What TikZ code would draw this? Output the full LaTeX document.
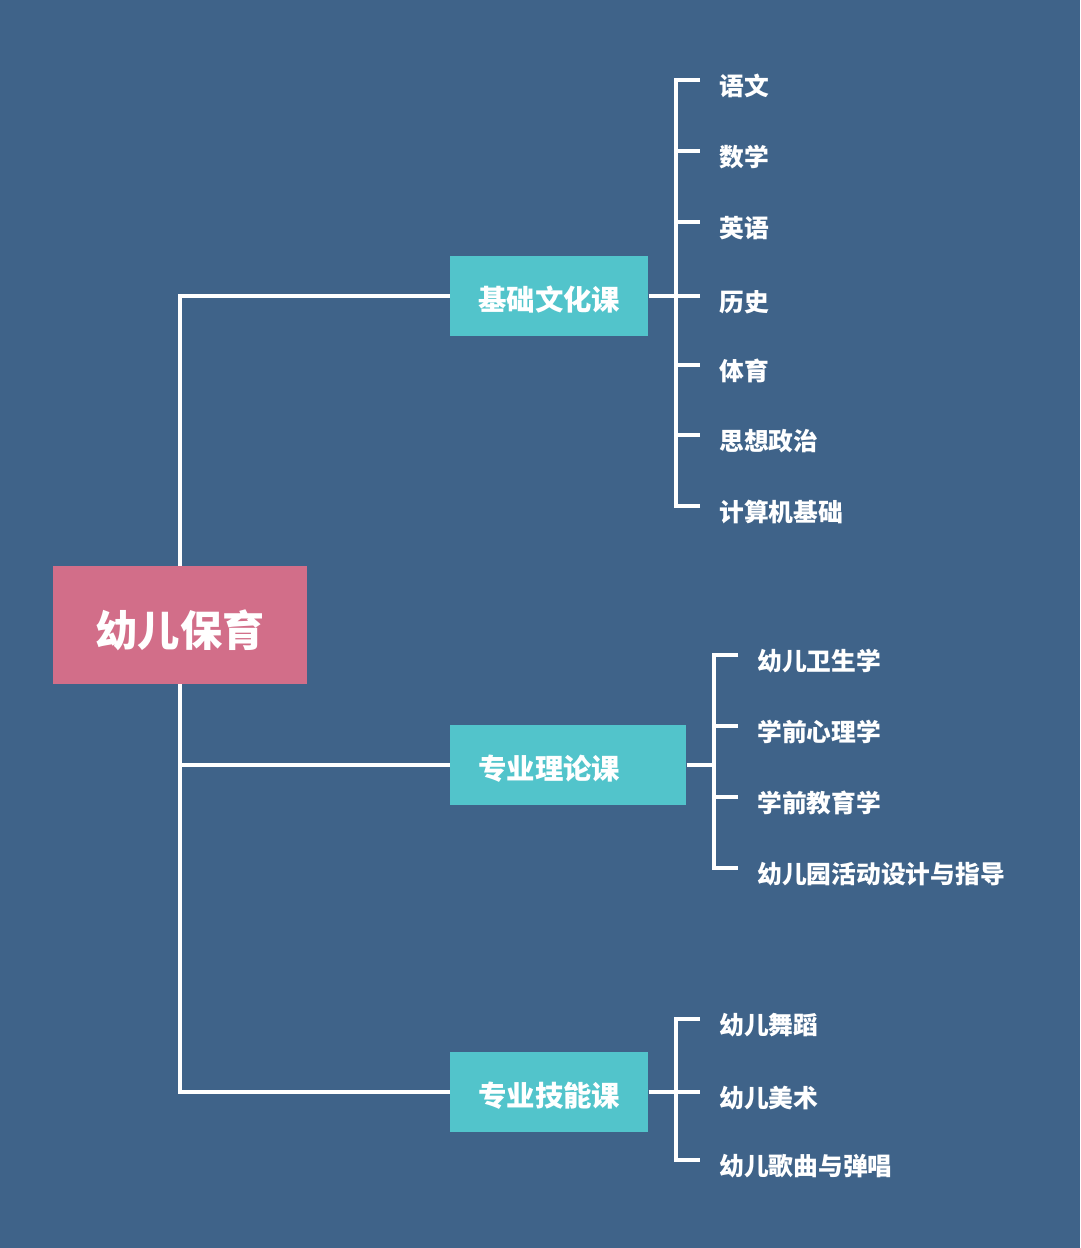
\documentclass[tikz,border=0pt]{standalone}
\usepackage{fontspec}
\newfontfamily\cjk{Noto Sans CJK SC}
\definecolor{bgblue}{RGB}{63,99,137}
\definecolor{rootpink}{RGB}{210,110,137}
\definecolor{boxteal}{RGB}{82,196,203}
\tikzset{
  link/.style={draw=white, line width=2.7pt},
  rootbox/.style={fill=rootpink, text=white, font=\cjk\bfseries\fontsize{30pt}{30pt}\selectfont, minimum width=180.7pt, minimum height=83.9pt, inner sep=0pt, text height=30pt, text depth=0pt},
  course/.style={fill=boxteal, text=white, font=\cjk\bfseries\fontsize{20.2pt}{20.2pt}\selectfont, anchor=west, minimum height=56.9pt, inner xsep=19.9pt, inner ysep=0pt, text height=21pt, text depth=0pt},
  leaf/.style={anchor=west, text=white, font=\cjk\bfseries\fontsize{17.6pt}{17.6pt}\selectfont, inner xsep=13.5pt, inner ysep=0pt, text height=22pt, text depth=0pt}
}
\begin{document}
\begin{tikzpicture}[x=0.025cm, y=-0.025cm]
  \fill[bgblue] (0,0) rectangle (1080,1248);
  % root and the three course boxes
  \node[rootbox] (root) at (180,625) {幼儿保育};
  \node[course] (c1) at (450,296) {基础文化课};
  \node[course, text width=128pt, align=left] (c2) at (450,765) {专业理论课};
  \node[course] (c3) at (450,1092) {专业技能课};
  \draw[link] (root.north) |- (c1.west);
  \draw[link] (root.south) |- (c2.west);
  \draw[link] (root.south) |- (c3.west);
  % first group
  \coordinate (s1) at (676,296);
  \node[leaf] (a1) at (700,80) {语文}; \node[leaf] (a2) at (700,151) {数学};
  \node[leaf] (a3) at (700,222) {英语}; \node[leaf] (a4) at (700,296) {历史};
  \node[leaf] (a5) at (700,365) {体育}; \node[leaf] (a6) at (700,435) {思想政治};
  \node[leaf] (a7) at (700,506) {计算机基础};
  \draw[link] (c1.east) -- (s1);
  \draw[link] (a1.west) -| (s1) |- (a7.west);
  \draw[link] (a2.west -| s1) -- (a2.west); \draw[link] (a3.west -| s1) -- (a3.west);
  \draw[link] (a4.west -| s1) -- (a4.west); \draw[link] (a5.west -| s1) -- (a5.west);
  \draw[link] (a6.west -| s1) -- (a6.west);
  % second group
  \coordinate (s2) at (714,765);
  \node[leaf] (b1) at (738,655) {幼儿卫生学}; \node[leaf] (b2) at (738,726) {学前心理学};
  \node[leaf] (b3) at (738,797) {学前教育学}; \node[leaf] (b4) at (738,868) {幼儿园活动设计与指导};
  \draw[link] (c2.east) -- (s2);
  \draw[link] (b1.west) -| (s2) |- (b4.west);
  \draw[link] (b2.west -| s2) -- (b2.west); \draw[link] (b3.west -| s2) -- (b3.west);
  % third group
  \coordinate (s3) at (676,1092);
  \node[leaf] (d1) at (700,1019) {幼儿舞蹈}; \node[leaf] (d2) at (700,1092) {幼儿美术};
  \node[leaf] (d3) at (700,1160) {幼儿歌曲与弹唱};
  \draw[link] (c3.east) -- (s3);
  \draw[link] (d1.west) -| (s3) |- (d3.west);
  \draw[link] (d2.west -| s3) -- (d2.west);
\end{tikzpicture}
\end{document}
